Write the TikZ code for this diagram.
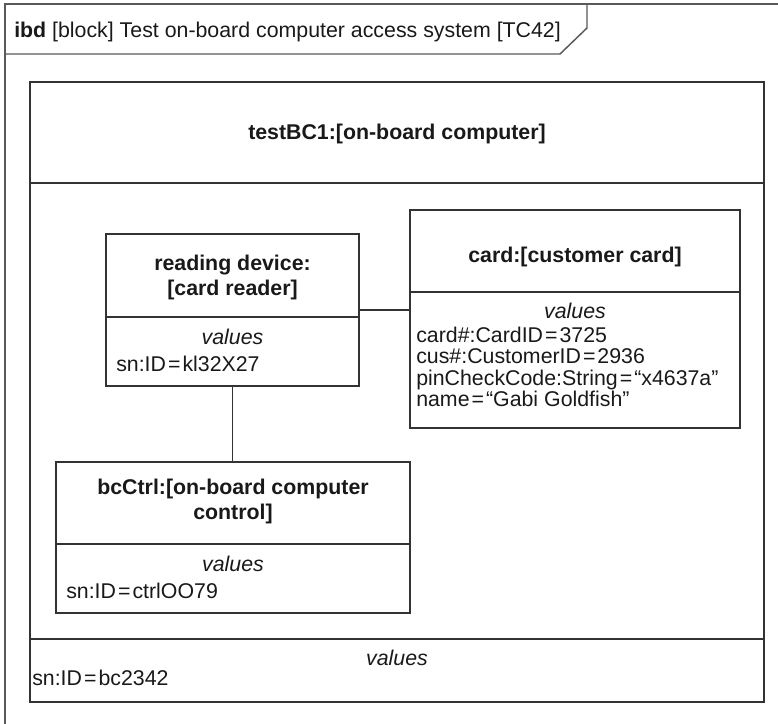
\documentclass[tikz,border=0pt]{standalone}
\usepackage{fontspec}
\setmainfont{Liberation Sans}
\usetikzlibrary{fit,positioning}
\newcommand\dfont{\fontsize{16}{16.1}\selectfont}
\newcommand\tfont{\fontsize{16}{18.75}\selectfont}
\newcommand\eq{\kern1.5pt=\kern1.5pt}

\begin{document}
\begin{tikzpicture}[x=0.75pt,y=-0.75pt,
  ln/.style={draw=black!80,line width=0.9pt},
  part/.style={ln,inner sep=0pt},
  ttl/.style={font=\tfont\bfseries,text=black!90,align=center,anchor=base,inner sep=0pt},
  vals/.style={font=\dfont\itshape,text=black!90,anchor=base,inner sep=0pt},
  attr/.style={font=\dfont,text=black!90,align=left,anchor=base west,inner sep=0pt}]
  \useasboundingbox (0,0) rectangle (778,724);
  % diagram frame
  \draw[draw=black!65,line width=1.3pt] (5,724) -- (5,4) -- (778,4);
  \draw[draw=black!65,line width=1.1pt] (5,54) -- (560,54) -- (587,28) -- (587,4);
  \node[attr] (hdr) at (14,38) {\textbf{ibd} [block] Test on-board computer access system [TC42]};

  % on-board computer
  \node[part,fit={(30,82) (764,702)}] (bc) {};
  \draw[ln] (bc.west |- 0,183) -- (bc.east |- 0,183);
  \draw[ln] (bc.west |- 0,639) -- (bc.east |- 0,639);
  \node[ttl] (bctitle) at (397,139) {testBC1:[on-board computer]};
  \node[vals] (bcval) at (397,665) {values};
  \node[attr] (bcsn) at (32,685) {sn:ID\eq bc2342};

  % card reader
  \node[part,fit={(106,234) (359,386)}] (rd) {};
  \draw[ln] (rd.west |- 0,317) -- (rd.east |- 0,317);
  \node[ttl] (rdtitle) at (232.5,295) {reading device:\\{[}card reader]};
  \node[vals] (rdval) at (232.5,344) {values};
  \node[attr] (rdsn) at (116,371) {sn:ID\eq kl32X27};

  % customer card
  \node[part,fit={(410,210) (740,428)}] (card) {};
  \draw[ln] (card.west |- 0,292) -- (card.east |- 0,292);
  \node[ttl] (cardtitle) at (575,262) {card:[customer card]};
  \node[vals] (cardval) at (575,318) {values};
  \node[attr] (cardattr) at (416,406.5) {card\#:CardID\eq 3725\\cus\#:CustomerID\eq 2936\\pinCheckCode:String\eq“x4637a”\\name\eq“Gabi Goldfish”};

  % on-board computer control
  \node[part,fit={(56,462) (410,613)}] (ctrl) {};
  \draw[ln] (ctrl.west |- 0,544) -- (ctrl.east |- 0,544);
  \node[ttl] (ctrltitle) at (233,519) {bcCtrl:[on-board computer\\control]};
  \node[vals] (ctrlval) at (233,571) {values};
  \node[attr] (ctrlsn) at (66,598) {sn:ID\eq ctrlOO79};

  \draw[ln] (rd.east) -- (card.west |- rd.east);
  \draw[ln] (rd.south) -- (ctrl.north -| rd.south);
\end{tikzpicture}
\end{document}
